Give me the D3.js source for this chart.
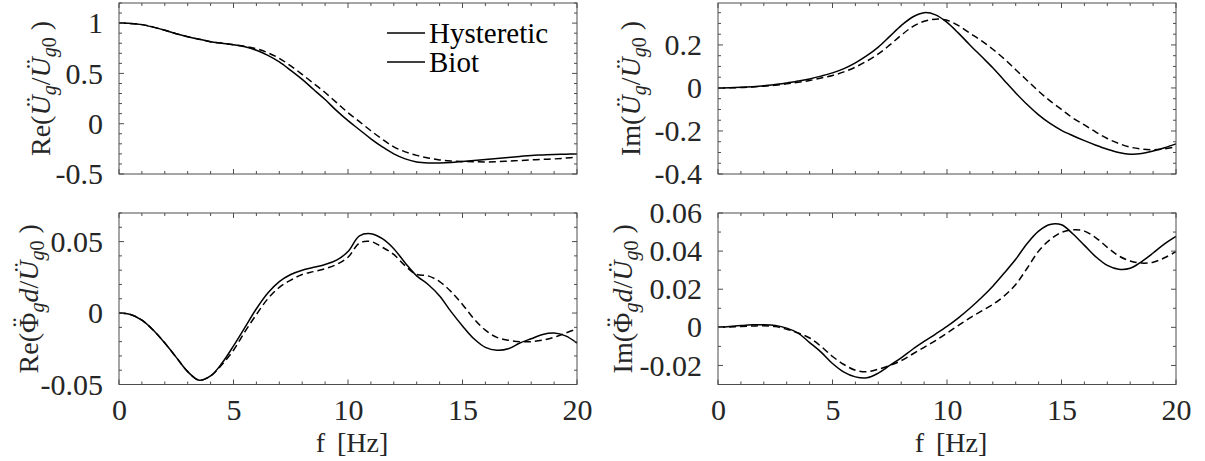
<!DOCTYPE html>
<html>
<head>
<meta charset="utf-8">
<script src="https://cdn.jsdelivr.net/npm/d3@7"></script>
<style>
  html, body { margin: 0; padding: 0; background: #fff; }
  svg { display: block; font-family: "Liberation Serif", "Times New Roman", serif; }
</style>
</head>
<body>
<svg id="chart" width="1205" height="461"></svg>
<script>
// Frequency grid (Hz)
const freq = [0,0.5,1,1.5,2,2.5,3,3.5,4,4.5,5,5.5,6,6.5,7,7.5,8,8.5,9,9.5,10,
              10.5,11,11.5,12,12.5,13,13.5,14,14.5,15,15.5,16,16.5,17,17.5,18,18.5,19,19.5,20];

// Re(Ug/Ug0)
const reUHyst = [1.00,0.997,0.985,0.96,0.93,0.895,0.865,0.84,0.815,0.80,0.785,0.765,0.73,0.68,0.615,0.53,0.44,0.34,0.24,0.13,0.03,
                 -0.06,-0.15,-0.23,-0.30,-0.35,-0.38,-0.39,-0.39,-0.385,-0.375,-0.365,-0.355,-0.345,-0.335,-0.325,-0.315,-0.31,-0.305,-0.303,-0.30];
const reUBiot  = [1.00,0.997,0.985,0.96,0.93,0.895,0.865,0.84,0.815,0.80,0.785,0.77,0.745,0.705,0.65,0.575,0.49,0.40,0.31,0.21,0.11,
                 0.02,-0.07,-0.155,-0.23,-0.28,-0.315,-0.34,-0.36,-0.37,-0.375,-0.378,-0.38,-0.378,-0.372,-0.366,-0.36,-0.355,-0.35,-0.342,-0.333];

// Im(Ug/Ug0)
const imUHyst = [0,0.001,0.003,0.006,0.01,0.016,0.023,0.032,0.042,0.055,0.07,0.09,0.117,0.15,0.19,0.24,0.29,0.33,0.35,0.34,0.305,
                 0.255,0.2,0.147,0.094,0.035,-0.023,-0.077,-0.125,-0.165,-0.197,-0.222,-0.245,-0.266,-0.285,-0.30,-0.308,-0.305,-0.293,-0.278,-0.26];
const imUBiot  = [0,0.0005,0.002,0.005,0.008,0.013,0.019,0.026,0.035,0.046,0.058,0.075,0.097,0.125,0.158,0.20,0.245,0.285,0.31,0.32,0.315,
                 0.29,0.255,0.22,0.18,0.135,0.085,0.035,-0.015,-0.06,-0.10,-0.14,-0.172,-0.205,-0.235,-0.258,-0.275,-0.284,-0.287,-0.283,-0.273];

// Re(Phi_g d/Ug0)
const rePHyst = [0,-0.001,-0.005,-0.012,-0.021,-0.031,-0.041,-0.047,-0.044,-0.035,-0.023,-0.01,0.003,0.014,0.022,0.027,0.030,0.032,0.034,0.037,0.043,
                 0.054,0.0555,0.052,0.045,0.035,0.026,0.02,0.012,0.001,-0.009,-0.018,-0.024,-0.026,-0.025,-0.021,-0.018,-0.015,-0.014,-0.016,-0.021];
const rePBiot  = [0,-0.001,-0.005,-0.012,-0.021,-0.031,-0.041,-0.047,-0.044,-0.036,-0.026,-0.013,-0.001,0.01,0.018,0.023,0.027,0.029,0.031,0.034,0.039,
                 0.049,0.050,0.046,0.041,0.033,0.027,0.026,0.022,0.015,0.006,-0.004,-0.012,-0.017,-0.019,-0.02,-0.02,-0.019,-0.017,-0.014,-0.011];

// Im(Phi_g d/Ug0)
const imPHyst = [0,0.0004,0.0009,0.0013,0.0014,0.001,-0.0004,-0.003,-0.008,-0.013,-0.019,-0.0235,-0.026,-0.0265,-0.024,-0.02,-0.016,-0.0115,-0.0074,-0.0035,0.0005,
                 0.005,0.01,0.0155,0.0216,0.0285,0.0357,0.044,0.0505,0.054,0.0538,0.049,0.043,0.037,0.0325,0.0305,0.031,0.0345,0.039,0.0438,0.0477];
const imPBiot  = [0,0.0002,0.0005,0.0007,0.0008,0.0004,-0.001,-0.003,-0.0056,-0.010,-0.0153,-0.0195,-0.0225,-0.0233,-0.022,-0.020,-0.0175,-0.014,-0.0105,-0.007,-0.003,
                 0.001,0.005,0.0085,0.012,0.0165,0.0225,0.031,0.040,0.046,0.0498,0.0512,0.0505,0.047,0.042,0.0375,0.0348,0.0337,0.0342,0.0365,0.0397];

// Axis ticks
const xTicks = [0,5,10,15,20];
const yTicksReU = [-0.5,0,0.5,1];
const yTicksImU = [-0.4,-0.2,0,0.2];
const yTicksReP = [-0.05,0,0.05];
const yTicksImP = [-0.02,0,0.02,0.04,0.06];
const yTickLabelsReU = ["-0.5","0","0.5","1"];
const yTickLabelsImU = ["-0.4","-0.2","0","0.2"];
const yTickLabelsReP = ["-0.05","0","0.05"];
const yTickLabelsImP = ["-0.02","0","0.02","0.04","0.06"];
const legendLabels = ["Hysteretic","Biot"];

const svg = d3.select("#chart");
const FS = 30;        // tick label font size
const XFS = 28;       // x-axis title font size
const LGFS = 29;      // legend font size
const LFS = 28;       // y-label font size
const SFS = 20;       // subscript font size
const axisColor = "#4d4d4d";
const textColor = "#262626";
const serif = "Liberation Serif, Times New Roman, serif";

// y-label pieces: kind 0 = upright, 1 = italic, 2 = italic subscript, 3 = upright subscript, 4 = double dot over previous glyph
const labReU = [["Re(",0],["Ü",1],["g",2],["/",0],["Ü",1],["g",2],["0",3],[" )",0]];
const labImU = [["Im(",0],["Ü",1],["g",2],["/",0],["Ü",1],["g",2],["0",3],[" )",0]];
const labReP = [["Re(",0],["Φ",0],["¨",4],["g",2],["d",1],["/",0],["Ü",1],["g",2],["0",3],[" )",0]];
const labImP = [["Im(",0],["Φ",0],["¨",4],["g",2],["d",1],["/",0],["Ü",1],["g",2],["0",3],[" )",0]];

const panels = [
  { x0:119, x1:577, y0:3,   y1:174,   dom:[-0.5,1.2],   ticks:yTicksReU, labels:yTickLabelsReU, minor:0.1,  hyst:reUHyst, biot:reUBiot, xl:false, ylx:50,  lab:labReU },
  { x0:718, x1:1176, y0:3,  y1:174,   dom:[-0.4,0.395], ticks:yTicksImU, labels:yTickLabelsImU, minor:0.05, hyst:imUHyst, biot:imUBiot, xl:false, ylx:640, lab:labImU },
  { x0:119, x1:577, y0:213, y1:384.5, dom:[-0.05,0.07], ticks:yTicksReP, labels:yTickLabelsReP, minor:0.01, hyst:rePHyst, biot:rePBiot, xl:true,  ylx:38,  lab:labReP },
  { x0:718, x1:1176, y0:213, y1:384.5, dom:[-0.03,0.06], ticks:yTicksImP, labels:yTickLabelsImP, minor:0.01, hyst:imPHyst, biot:imPBiot, xl:true,  ylx:632, lab:labImP }
];

panels.forEach(p => {
  const x = d3.scaleLinear().domain([0,20]).range([p.x0, p.x1]);
  const y = d3.scaleLinear().domain(p.dom).range([p.y1, p.y0]);
  const g = svg.append("g");

  // curves: dashed = Biot, solid = Hysteretic
  const line = arr => d3.line().x((d,i) => x(freq[i])).y(d => y(d)).curve(d3.curveCatmullRom.alpha(0.5))(arr);
  g.append("path").attr("d", line(p.biot)).attr("fill","none").attr("stroke","#000")
    .attr("stroke-width",1.5).attr("stroke-dasharray","7,4");
  g.append("path").attr("d", line(p.hyst)).attr("fill","none").attr("stroke","#000")
    .attr("stroke-width",1.5);

  // minor + major ticks, pointing inward on all four sides
  const xMinor = d3.range(0, 20.001, 1);
  const yMinor = d3.range(Math.ceil(p.dom[0]/p.minor - 1e-6), Math.floor(p.dom[1]/p.minor + 1e-6) + 1).map(k => +(k*p.minor).toFixed(4));
  const tk = g.append("g").attr("stroke", axisColor).attr("stroke-width", 1);
  xMinor.forEach(v => {
    const len = xTicks.includes(v) ? 5 : 3;
    tk.append("line").attr("x1",x(v)).attr("x2",x(v)).attr("y1",p.y1).attr("y2",p.y1-len);
    tk.append("line").attr("x1",x(v)).attr("x2",x(v)).attr("y1",p.y0).attr("y2",p.y0+len);
  });
  yMinor.forEach(v => {
    const len = p.ticks.some(t => Math.abs(t - v) < 1e-6) ? 5 : 3;
    tk.append("line").attr("x1",p.x0).attr("x2",p.x0+len).attr("y1",y(v)).attr("y2",y(v));
    tk.append("line").attr("x1",p.x1).attr("x2",p.x1-len).attr("y1",y(v)).attr("y2",y(v));
  });

  // frame
  g.append("rect").attr("x",p.x0).attr("y",p.y0).attr("width",p.x1-p.x0).attr("height",p.y1-p.y0)
    .attr("fill","none").attr("stroke",axisColor).attr("stroke-width",1);

  // y tick labels
  const yAxis = d3.axisLeft(y).tickValues(p.ticks).tickFormat((d,i) => p.labels[i]).tickSize(0).tickPadding(16);
  const ya = g.append("g").attr("transform", `translate(${p.x0},0)`).call(yAxis);
  ya.select(".domain").remove();
  ya.selectAll("text").attr("font-size", FS).attr("fill", textColor).attr("font-family", serif);

  // x tick labels + axis title on the bottom row
  if (p.xl) {
    const xAxis = d3.axisBottom(x).tickValues(xTicks).tickFormat(d3.format("d")).tickSize(0).tickPadding(14);
    const xa = g.append("g").attr("transform", `translate(0,${p.y1})`).call(xAxis);
    xa.select(".domain").remove();
    xa.selectAll("text").attr("font-size", FS).attr("fill", textColor).attr("font-family", serif);

    const xt = g.append("text").attr("x", (p.x0+p.x1)/2 + 4).attr("y", 452)
      .attr("text-anchor","middle").attr("font-size", XFS).attr("fill", textColor);
    xt.append("tspan").text("f");
    xt.append("tspan").attr("dx", 12).text("[Hz]");
  }

  // y label (rotated), built from upright / italic / subscript pieces
  const cy = (p.y0 + p.y1) / 2;
  const yt = g.append("text").attr("transform", `translate(${p.ylx},${cy}) rotate(-90)`)
    .attr("text-anchor","middle").attr("font-size", LFS).attr("fill", textColor);
  let shift = 0;       // current vertical offset of the baseline
  let pendingDx = 0;
  p.lab.forEach(([s, kind]) => {
    const t = yt.append("tspan").text(s);
    let target = 0, dx = pendingDx;
    pendingDx = 0;
    if (kind === 1 || kind === 2) t.attr("font-style","italic");
    if (kind === 2 || kind === 3) { t.attr("font-size", SFS); target = 6; }
    if (kind === 4) {
      // spacing diaeresis pulled back over the preceding capital
      target = -7;
      dx += -0.52 * LFS;
      pendingDx = 0.19 * LFS;
    }
    if (target !== shift) t.attr("dy", target - shift);
    if (dx) t.attr("dx", dx);
    shift = target;
  });
});

// legend (inside the top-left panel)
const lg = svg.append("g");
legendLabels.forEach((name, i) => {
  const ly = 33 + i * 29;
  lg.append("line").attr("x1", 387).attr("x2", 425).attr("y1", ly).attr("y2", ly)
    .attr("stroke", "#000").attr("stroke-width", 1.4);
  lg.append("text").attr("x", 429).attr("y", ly + 10).attr("font-size", LGFS).attr("fill", "#000").text(name);
});
</script>
</body>
</html>
